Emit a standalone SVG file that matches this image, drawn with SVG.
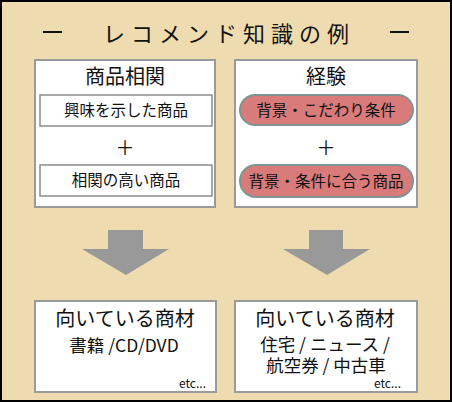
<svg xmlns="http://www.w3.org/2000/svg" width="452" height="402" viewBox="0 0 452 402">
<style>
text{font-family:"Noto Sans CJK JP","Noto Sans",sans-serif;fill:#111;text-anchor:middle}
.box{fill:#fff;stroke:#9a9a9a;stroke-width:2}
.inner{fill:#fff;stroke:#8c8c8c;stroke-width:1.5}
.pill{fill:#d97b7b;stroke:#7f9393;stroke-width:2}
.arrow{fill:#999}
.t1{font-size:20px}
.t2{font-size:15.5px}
.t3{font-size:17.5px}
.plus{font-size:19px}
.etc{font-size:12px;text-anchor:end}
</style>
<rect x="1" y="1" width="450" height="400" fill="#eedcb0" stroke="#000" stroke-width="2"/>
<g id="title">
<text x="229" y="42" style="font-size:22px;letter-spacing:6px">レコメンド知識の例</text>
<rect x="43" y="31" width="19" height="2" fill="#111"/>
<rect x="390" y="31" width="19" height="2" fill="#111"/>
</g>
<g id="node-related">
<rect class="box" x="35" y="60" width="180" height="147"/>
<text class="t1" x="125" y="84">商品相関</text>
<rect class="inner" x="40" y="95" width="172" height="31"/>
<text class="t2" x="126" y="116">興味を示した商品</text>
<text class="plus" x="125" y="155">＋</text>
<rect class="inner" x="40" y="165" width="172" height="31"/>
<text class="t2" x="126" y="186">相関の高い商品</text>
</g>
<g id="node-experience">
<rect class="box" x="235" y="60" width="182" height="147"/>
<text class="t1" x="326" y="84">経験</text>
<rect class="pill" x="240" y="95" width="173" height="30" rx="15"/>
<text class="t2" x="326" y="116">背景・こだわり条件</text>
<text class="plus" x="326" y="155">＋</text>
<rect class="pill" x="240" y="165" width="173" height="32" rx="16"/>
<text class="t2" x="326" y="187">背景・条件に合う商品</text>
</g>
<g id="connectors">
<polygon class="arrow" points="108,230 143,230 143,249 169,249 126,275 82,249 108,249"/>
<polygon class="arrow" points="309,230 343,230 343,249 370,249 327,275 283,249 309,249"/>
</g>
<g id="node-goods-left">
<rect class="box" x="35" y="301" width="181" height="91"/>
<text class="t1" x="125" y="326">向いている商材</text>
<text class="t3" x="124" y="352">書籍 /CD/DVD</text>
<text class="etc" x="206" y="388">etc...</text>
</g>
<g id="node-goods-right">
<rect class="box" x="235" y="301" width="182" height="91"/>
<text class="t1" x="325" y="326">向いている商材</text>
<text class="t3"><tspan x="325" y="351">住宅 / ニュース /</tspan><tspan x="326" y="372">航空券 / 中古車</tspan></text>
<text class="etc" x="401" y="388">etc...</text>
</g>
</svg>
